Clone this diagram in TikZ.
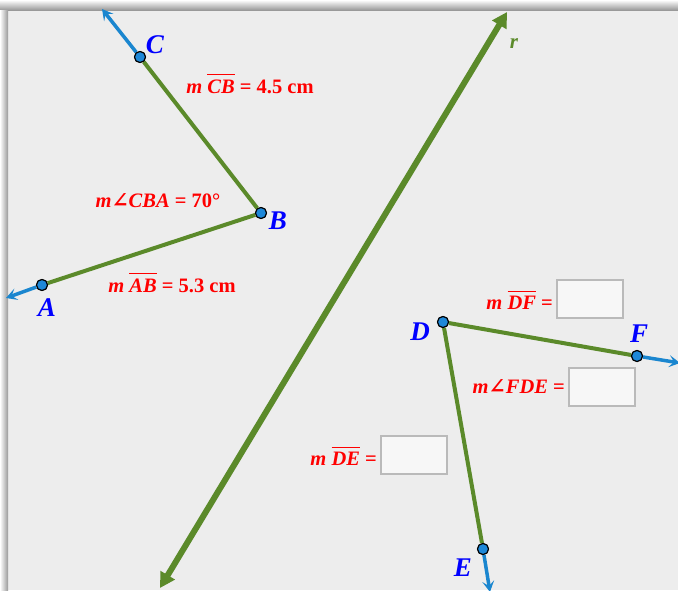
\documentclass[tikz,border=0pt]{standalone}
\usepackage{fontspec}
\setmainfont{Liberation Serif}
\newfontfamily\anglefont{DejaVu Serif}
\usetikzlibrary{arrows.meta}
\definecolor{bggray}{HTML}{EDEDED}
\definecolor{segGreen}{HTML}{5B8A2A}
\definecolor{rayBlue}{HTML}{1A86CF}
\definecolor{ptBlue}{HTML}{1E88D8}
\newcommand{\angsym}{{\anglefont\bfseries\itshape ∠}}
\newcommand{\segname}[1]{$\overline{\hbox{\rule{0pt}{0.86em}\textit{#1}}}$}
\tikzset{
  pt/.style={circle, draw=black, fill=ptBlue, line width=1.1pt, inner sep=0pt, minimum size=11pt},
  seg/.style={draw=segGreen, line width=4pt},
  ray/.style={draw=rayBlue, line width=3.5pt, -{Stealth[length=11pt, width=12pt, inset=5pt]}},
  ptlabel/.style={text=blue, font=\fontsize{27}{30}\selectfont\bfseries\itshape, inner sep=0pt},
  measure/.style={text=red, font=\fontsize{20.5}{24}\selectfont\bfseries, inner sep=0pt},
  answerbox/.style={draw=black!27, fill=black!3, line width=2pt, minimum width=66pt, minimum height=38pt, inner sep=0pt}
}
\begin{document}
\begin{tikzpicture}[x=1pt, y=-1pt]
	% 1. 背景与阴影边框
	\useasboundingbox (0,0) rectangle (678,590);
	\fill[bggray] (0,0) rectangle (678,590);
	\shade[top color=white, bottom color=black!40] (0,0) rectangle (678,10);
	\shade[left color=white, right color=black!40] (0,10) rectangle (8,590);
	
	% 2. 直线 r
	\coordinate (r1) at (160,588);
	\coordinate (r2) at (507,12);
	\draw[draw=segGreen, line width=6pt, {Triangle[length=15pt, width=16pt]}-{Triangle[length=15pt, width=16pt]}] (r1) -- (r2);
	\node[text=segGreen, font=\fontsize{21}{24}\selectfont\bfseries\itshape] (rlab) at (514,44) {r};
	
	% 3. 角 CBA
	\node[pt] (C) at (140,57) {};
	\node[pt] (B) at (261,213) {};
	\node[pt] (A) at (42,285) {};
	\coordinate (Cend) at (102,9);
	\coordinate (Aend) at (6,298);
	\draw[ray] (C) -- (Cend);
	\draw[ray] (A) -- (Aend);
	\draw[seg] (C) -- (B);
	\draw[seg] (B) -- (A);
	\node[pt] at (C) {};
	\node[pt] at (B) {};
	\node[pt] at (A) {};
	\node[ptlabel] (Clab) at (155,45) {C};
	\node[ptlabel] (Blab) at (278,221) {B};
	\node[ptlabel] (Alab) at (47,308) {A};
	\node[measure] (mCB) at (250,84) {\textit{m} \segname{CB} = 4.5 cm};
	\node[measure] (mCBA) at (158,201) {\textit{m}\angsym\textit{CBA} = 70°};
	\node[measure] (mAB) at (172,283) {\textit{m} \segname{AB} = 5.3 cm};
	
	% 4. 角 FDE
	\node[pt] (D) at (443,322) {};
	\node[pt] (F) at (637,356) {};
	\node[pt] (E) at (483,549) {};
	\coordinate (Fend) at (680,363);
	\coordinate (Eend) at (490,592);
	\draw[ray] (F) -- (Fend);
	\draw[ray] (E) -- (Eend);
	\draw[seg] (D) -- (F);
	\draw[seg] (D) -- (E);
	\node[pt] at (D) {};
	\node[pt] at (F) {};
	\node[pt] at (E) {};
	\node[ptlabel] (Dlab) at (420,332) {D};
	\node[ptlabel] (Flab) at (639,334) {F};
	\node[ptlabel] (Elab) at (463,568) {E};
	
	% 5. 待填写的框
	\node[answerbox] (boxDF) at (590,299) {};
	\node[answerbox] (boxFDE) at (602,387) {};
	\node[answerbox] (boxDE) at (414,455) {};
	\node[measure, anchor=east] (mDF) at ([xshift=-3pt, yshift=-1pt]boxDF.west) {\textit{m} \segname{DF} =};
	\node[measure, anchor=east] (mFDE) at ([xshift=-3pt]boxFDE.west) {\textit{m}\angsym\textit{FDE} =};
	\node[measure, anchor=east] (mDE) at ([xshift=-3pt, yshift=-1pt]boxDE.west) {\textit{m} \segname{DE} =};
\end{tikzpicture}
\end{document}
